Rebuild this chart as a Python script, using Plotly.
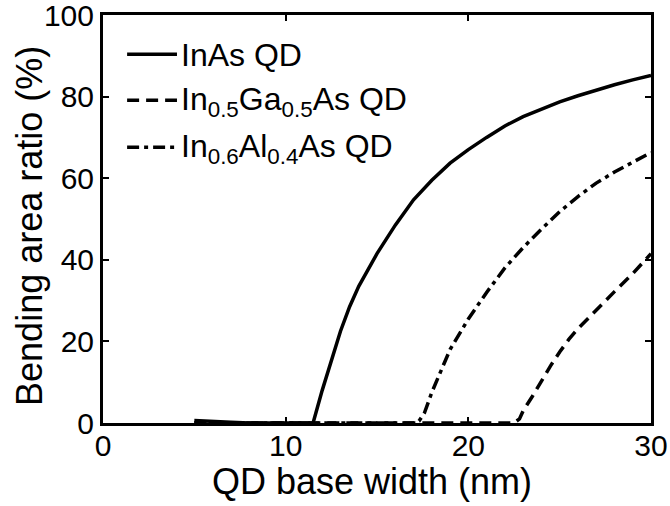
import plotly.graph_objects as go

# Data
inas_x = [5, 6, 7, 8, 9, 10, 11, 11.5, 12, 12.5, 13, 13.5, 14, 15, 16, 17, 18, 19, 20,
          21, 22, 23, 24, 25, 26, 27, 28, 29, 30]
inas_y = [0.6, 0.5, 0.2, 0, 0, 0, 0, 0, 8, 15.4, 22.5, 28.5, 33.5, 41.5, 48.5, 54.7, 59.5,
          63.7, 67, 70, 72.8, 75.1, 77, 78.7, 80.2, 81.6, 82.9, 84.1, 85.2]

ingaas_x = [5, 7, 9, 11, 13, 15, 17, 19, 21, 22.5, 22.8, 23, 23.5, 24, 24.5, 25, 25.5, 26,
            27, 28, 29, 30]
ingaas_y = [0, 0, 0, 0, 0, 0, 0, 0, 0, 0, 1, 3, 6.5, 10.3, 14.0, 17.4, 20.5, 23.1,
            27.8, 32.2, 36.6, 41.5]

inalas_x = [5, 7, 9, 11, 13, 15, 17, 17.3, 17.6, 18, 18.6, 19, 20, 21, 22, 23, 24, 25, 26,
            27, 28, 29, 30]
inalas_y = [0, 0, 0, 0, 0, 0, 0, 0.5, 2.5, 7.5, 13.8, 18, 25.5, 32, 38, 43, 47.5, 51.8,
            55.5, 58.8, 61.5, 64, 66.3]

names = ["InAs QD", "In<sub>0.5</sub>Ga<sub>0.5</sub>As QD", "In<sub>0.6</sub>Al<sub>0.4</sub>As QD"]
dashes = ["solid", "12px,7px", "12px,5px,4px,5px"]
x_ticks = [0, 10, 20, 30]
y_ticks = [0, 20, 40, 60, 80, 100]
x_title = "QD base width (nm)"
y_title = "Bending area ratio (%)"

FONT = "Liberation Sans, Arial, sans-serif"
LW = 3.5

fig = go.Figure()
for xs, ys, nm, ds in [(inas_x, inas_y, names[0], dashes[0]),
                       (ingaas_x, ingaas_y, names[1], dashes[1]),
                       (inalas_x, inalas_y, names[2], dashes[2])]:
    fig.add_trace(go.Scatter(x=xs, y=ys, mode="lines", name=nm, showlegend=False,
                             line=dict(color="black", width=LW, dash=ds)))

# Manual legend (longer line samples like the reference)
leg_x0, leg_x1 = 0.044, 0.135
leg_ys = [0.904, 0.791, 0.676]
for nm, ds, ly in zip(names, dashes, leg_ys):
    fig.add_shape(type="line", xref="paper", yref="paper", x0=leg_x0, x1=leg_x1, y0=ly, y1=ly,
                  line=dict(color="black", width=LW, dash=ds))
    fig.add_annotation(xref="paper", yref="paper", x=leg_x1 + 0.003, y=ly, text=nm,
                       showarrow=False, xanchor="left", yanchor="middle", yshift=-1,
                       font=dict(family=FONT, size=32, color="black"))

# Axis titles
fig.add_annotation(xref="paper", yref="paper", x=0.49, y=0, yshift=-58, text=x_title,
                   showarrow=False, xanchor="center", yanchor="middle",
                   font=dict(family=FONT, size=36, color="black"))
fig.add_annotation(xref="paper", yref="paper", x=0, xshift=-73, y=0.483, text=y_title,
                   showarrow=False, xanchor="center", yanchor="middle", textangle=-90,
                   font=dict(family=FONT, size=36, color="black"))

axis_common = dict(showline=True, linecolor="black", linewidth=3, mirror="ticks",
                   ticks="inside", ticklen=6, tickwidth=2, tickcolor="black",
                   showgrid=False, zeroline=False, ticklabeloverflow="allow",
                   automargin=False,
                   tickfont=dict(family=FONT, size=30, color="black"))

fig.update_layout(
    width=670, height=506,
    margin=dict(l=103, r=19, t=15, b=83),
    paper_bgcolor="white", plot_bgcolor="white",
    font=dict(family=FONT, color="black"),
    xaxis=dict(range=[0, 30], tickvals=x_ticks, ticklabelstandoff=-6, **axis_common),
    yaxis=dict(range=[0, 100], tickvals=y_ticks, **axis_common),
    showlegend=False,
)

fig.write_html("out.html")
